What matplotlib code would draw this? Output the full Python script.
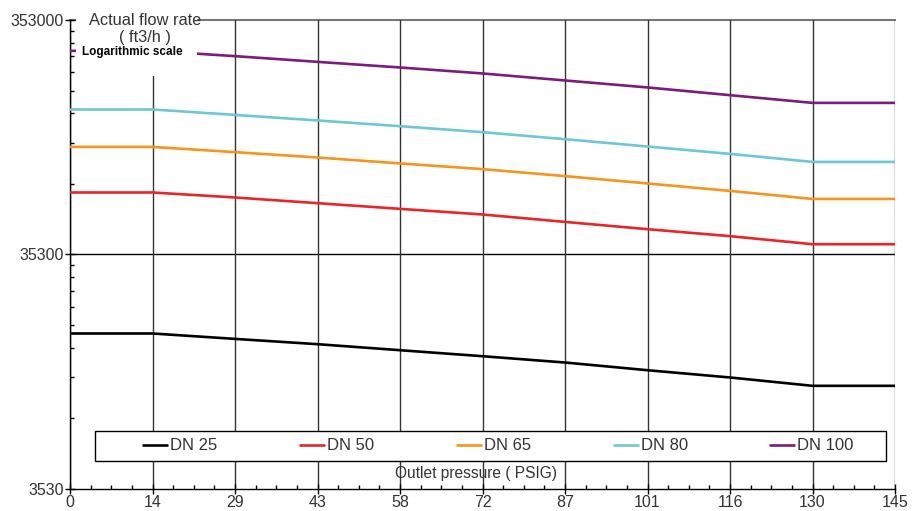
import matplotlib
matplotlib.use("Agg")
import matplotlib.pyplot as plt
from matplotlib.ticker import FixedLocator, NullFormatter
from matplotlib.patches import Rectangle
import numpy as np

plt.rcParams['font.family'] = ['Liberation Sans', 'DejaVu Sans']

x_pos = [0, 14.5, 29, 43.5, 58, 72.5, 87, 101.5, 116, 130.5, 145]
x_labels = ["0", "14", "29", "43", "58", "72", "87", "101", "116", "130", "145"]

series_names = ["DN 25", "DN 50", "DN 65", "DN 80", "DN 100"]
dn25 = [16250, 16250, 15410, 14630, 13790, 13000, 12220, 11330, 10550, 9720, 9720]
dn50 = [64880, 64880, 61780, 58420, 55250, 52280, 48610, 45250, 42260, 39040, 39040]
dn65 = [101500, 101500, 96400, 91500, 86300, 81600, 76200, 70900, 65900, 60900, 60900]
dn80 = [146600, 146600, 139000, 131600, 124400, 117300, 109500, 101900, 94800, 87600, 87600]
dn100 = [260700, 260700, 247500, 234000, 221400, 208800, 194900, 182000, 168700, 156400, 156400]
series = [dn25, dn50, dn65, dn80, dn100]
colors = ["#000000", "#e8262a", "#f7941d", "#6ec6d9", "#7d1a7d"]

y_ticks = [3530, 35300, 353000]
y_labels = ["3530", "35300", "353000"]

fig = plt.figure(figsize=(9.19, 5.11), dpi=100)
ax = fig.add_axes([0.0762, 0.0431, 0.8977, 0.9178])

for vals, c, name in zip(series, colors, series_names):
    ax.plot(x_pos, vals, color=c, lw=1.9, label=name, zorder=3, solid_capstyle='butt')

ax.set_yscale('log')
ax.set_xlim(0, 145)
ax.set_ylim(3530, 353000)

ax.xaxis.set_major_locator(FixedLocator(x_pos))
ax.set_xticklabels(x_labels)
ax.xaxis.set_minor_locator(FixedLocator([i * 14.5 / 4 for i in range(41)]))
ax.yaxis.set_major_locator(FixedLocator(y_ticks))
ax.set_yticklabels(y_labels)
minors = [k * b for b in (3530, 35300) for k in range(2, 10)]
ax.yaxis.set_minor_locator(FixedLocator(minors))
ax.yaxis.set_minor_formatter(NullFormatter())

ax.tick_params(axis='both', which='major', direction='inout', length=7, width=1,
               labelsize=11.5, labelcolor='#333333', pad=1)
ax.tick_params(axis='both', which='minor', direction='in', length=3, width=1)

ax.grid(True, axis='x', which='major', color='#333333', lw=1, zorder=1)
ax.axhline(35300, color='black', lw=1, zorder=1)
ax.axhline(353000, color='#777777', lw=1.5, zorder=1, clip_on=False)

for s in ['top', 'right']:
    ax.spines[s].set_visible(False)
for s in ['left', 'bottom']:
    ax.spines[s].set_color('black')
    ax.spines[s].set_linewidth(1)

# white block behind the y-axis title
ax.add_patch(Rectangle((0.0075, 0.881), 0.147, 0.14, transform=ax.transAxes,
                       facecolor='white', edgecolor='none', zorder=5, clip_on=False))
ax.text(0.091, 0.999, "Actual flow rate", transform=ax.transAxes, fontsize=11.8,
        color='#333333', ha='center', va='center', zorder=6)
ax.text(0.091, 0.963, "( ft3/h )", transform=ax.transAxes, fontsize=11.8,
        color='#333333', ha='center', va='center', zorder=6)
ax.text(0.0755, 0.931, "Logarithmic scale", transform=ax.transAxes, fontsize=8.5,
        fontweight='bold', color='black', ha='center', va='center', zorder=6)

ax.text(0.492, 0.034, "Outlet pressure ( PSIG)", transform=ax.transAxes, fontsize=11.2,
        color='#333333', ha='center', va='center', zorder=6)

# legend frame and entries
ax.add_patch(Rectangle((0.0303, 0.0597), 0.959, 0.064, transform=ax.transAxes,
                       facecolor='white', edgecolor='black', lw=1, zorder=6))
leg = ax.legend(loc='center left', bbox_to_anchor=(0.0873, 0.0917),
                ncol=5, frameon=False, fontsize=12,
                handlelength=1.56, handletextpad=0.12, columnspacing=4.9,
                borderpad=0, borderaxespad=0, labelcolor='#333333')
leg.set_zorder(7)

fig.savefig("out.png", dpi=100)
